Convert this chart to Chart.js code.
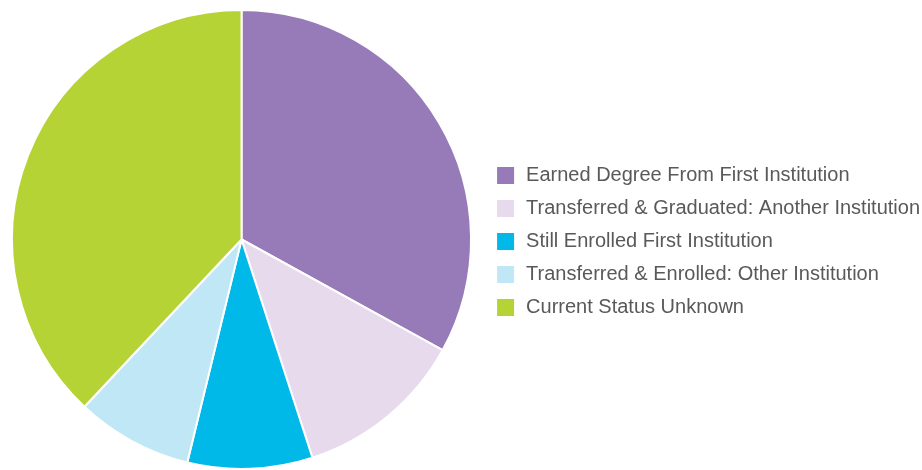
<!DOCTYPE html>
<html>
<head>
<meta charset="utf-8">
<script src="https://cdn.jsdelivr.net/npm/chart.js@4"></script>
<style>
html,body{margin:0;padding:0;background:#fff;}
#wrap{width:922px;height:470px;position:relative;}
</style>
</head>
<body>
<div id="wrap"><canvas id="c" width="922" height="470"></canvas></div>
<script>
const categories = [
  "Earned Degree From First Institution",
  "Transferred & Graduated: Another Institution",
  "Still Enrolled First Institution",
  "Transferred & Enrolled: Other Institution",
  "Current Status Unknown"
];
const values = [33, 12, 8.8, 8.2, 38];
const colors = ["#967bb8", "#e6daec", "#00b9e9", "#c0e7f6", "#b6d335"];

new Chart(document.getElementById('c'), {
  type: 'pie',
  data: {
    labels: categories,
    datasets: [{
      data: values,
      backgroundColor: colors,
      borderColor: '#ffffff',
      borderWidth: 2
    }]
  },
  options: {
    responsive: false,
    animation: false,
    layout: { padding: { top: 9, left: -6, right: -8, bottom: -4 } },
    plugins: {
      tooltip: { enabled: false },
      legend: {
        position: 'right',
        align: 'center',
        labels: {
          boxWidth: 21,
          boxHeight: 21,
          padding: 12,
          color: '#595959',
          font: { family: "'Liberation Sans', Arial, sans-serif", size: 20 },
          generateLabels: function(chart) {
            const items = Chart.overrides.pie.plugins.legend.labels.generateLabels(chart);
            items.forEach(it => { it.strokeStyle = '#ffffff'; it.lineWidth = 4; });
            return items;
          }
        }
      }
    }
  }
});
</script>
</body>
</html>
